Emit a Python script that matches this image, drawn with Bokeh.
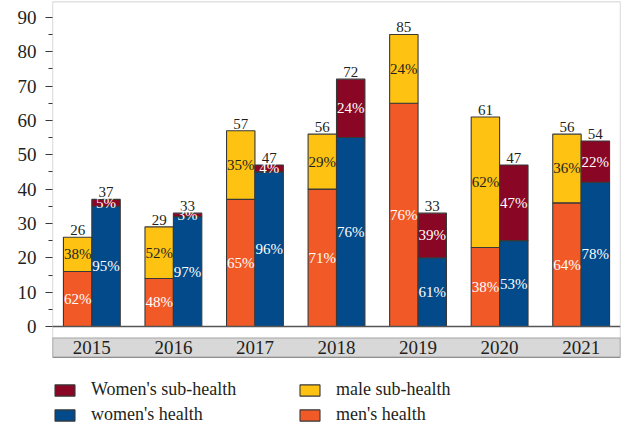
from bokeh.plotting import figure
from bokeh.models import (ColumnDataSource, FactorRange, FixedTicker, Span,
                          BoxAnnotation, Legend, LegendItem)
from bokeh.core.properties import value
from bokeh.embed import file_html
from bokeh.resources import INLINE

# ---------------- data ----------------
years = ["2015", "2016", "2017", "2018", "2019", "2020", "2021"]
men_health = [16, 14, 37, 40, 65, 23, 36]
men_sub = [10, 15, 20, 16, 20, 38, 20]
women_health = [35, 32, 45, 55, 20, 25, 42]
women_sub = [2, 1, 2, 17, 13, 22, 12]
men_health_pct = ["62%", "48%", "65%", "71%", "76%", "38%", "64%"]
men_sub_pct = ["38%", "52%", "35%", "29%", "24%", "62%", "36%"]
women_health_pct = ["95%", "97%", "96%", "76%", "61%", "53%", "78%"]
women_sub_pct = ["5%", "3%", "4%", "24%", "39%", "47%", "22%"]
y_ticks = [0, 10, 20, 30, 40, 50, 60, 70, 80, 90]

# ---------------- style ----------------
FONT = "Liberation Serif"
C_MEN_H = "#F15A26"
C_MEN_S = "#FEC312"
C_WOM_H = "#024A8A"
C_WOM_S = "#890724"
EDGE = "#383838"
TXT = "#231F20"

Y_TOP = 94.6
BAND_TOP = -3.3
BAND_BOTTOM = -9.0
Y_BOTTOM = -28.8

men_total = [a + b for a, b in zip(men_health, men_sub)]
women_total = [a + b for a, b in zip(women_health, women_sub)]

men_src = ColumnDataSource(dict(
    x=[(y, "m") for y in years],
    health=men_health, sub=men_sub, total=men_total,
    total_txt=[str(t) for t in men_total],
    h_mid=[h / 2 for h in men_health],
    s_mid=[h + s / 2 for h, s in zip(men_health, men_sub)],
    h_pct=men_health_pct, s_pct=men_sub_pct,
))
women_src = ColumnDataSource(dict(
    x=[(y, "w") for y in years],
    health=women_health, sub=women_sub, total=women_total,
    total_txt=[str(t) for t in women_total],
    h_mid=[h / 2 for h in women_health],
    s_mid=[h + s / 2 for h, s in zip(women_health, women_sub)],
    h_pct=women_health_pct, s_pct=women_sub_pct,
))

factors = [(y, g) for y in years for g in ("m", "w")]
p = figure(
    x_range=FactorRange(*factors, group_padding=0.87, factor_padding=0.0,
                        range_padding=0.04),
    y_range=(Y_BOTTOM, Y_TOP),
    width=622, height=425,
    output_backend="svg", toolbar_location=None,
    x_axis_location=None,
    min_border_left=52, min_border_right=2, min_border_top=1,
    min_border_bottom=0,
)
p.xgrid.visible = False
p.ygrid.visible = False
p.outline_line_color = None
p.background_fill_color = "white"
p.border_fill_color = "white"

# year band and outer box
band = BoxAnnotation(top=BAND_TOP, bottom=BAND_BOTTOM, fill_color="#D8D8D8",
                     fill_alpha=1.0, line_color=EDGE, line_width=1.3,
                     level="underlay")
p.add_layout(band)
box = BoxAnnotation(bottom=BAND_BOTTOM, fill_alpha=0.0, line_color=EDGE,
                    line_width=1.3)
p.add_layout(box)

# bars
men_r = p.vbar_stack(["health", "sub"], x="x", width=1.0, source=men_src,
                     fill_color=[C_MEN_H, C_MEN_S], line_color=EDGE,
                     line_width=1.1)
women_r = p.vbar_stack(["health", "sub"], x="x", width=1.0, source=women_src,
                       fill_color=[C_WOM_H, C_WOM_S], line_color=EDGE,
                       line_width=1.1)

zero = Span(location=0, dimension="width", line_color="#555555",
            line_width=1.5)
p.add_layout(zero)

tf = value(FONT)
for src in (men_src, women_src):
    p.text(x="x", y="total", text="total_txt", source=src, text_font=tf,
           text_font_size="15px", text_align="center",
           text_baseline="bottom", text_color=TXT, y_offset=-2)
    p.text(x="x", y="h_mid", text="h_pct", source=src, text_font=tf,
           text_font_size="15px", text_align="center",
           text_baseline="middle", text_color="white")
p.text(x="x", y="s_mid", text="s_pct", source=men_src, text_font=tf,
       text_font_size="15px", text_align="center", text_baseline="middle",
       text_color=TXT)
p.text(x="x", y="s_mid", text="s_pct", source=women_src, text_font=tf,
       text_font_size="15px", text_align="center", text_baseline="middle",
       text_color="white")

# year labels inside the band
band_mid = (BAND_TOP + BAND_BOTTOM) / 2
p.text(x=years, y=[band_mid] * len(years), text=years, text_font=tf,
       text_font_size="19px", text_align="center", text_baseline="middle",
       text_color=TXT)

# y axis
ax = p.yaxis[0]
ax.ticker = FixedTicker(ticks=y_ticks,
                        minor_ticks=[t + 5 for t in y_ticks[:-1]])
ax.axis_line_color = None
ax.major_tick_line_color = EDGE
ax.minor_tick_line_color = EDGE
ax.major_tick_line_width = 1.2
ax.minor_tick_line_width = 1.2
ax.major_tick_out = 7
ax.major_tick_in = 0
ax.minor_tick_out = 4
ax.minor_tick_in = 0
ax.major_label_text_font = FONT
ax.major_label_text_font_size = "19px"
ax.major_label_text_color = TXT
ax.major_label_standoff = 9

legend = Legend(
    items=[
        LegendItem(label="Women's sub-health", renderers=[women_r[1]]),
        LegendItem(label="women's health", renderers=[women_r[0]]),
        LegendItem(label="male sub-health", renderers=[men_r[1]]),
        LegendItem(label="men's health", renderers=[men_r[0]]),
    ],
    location=(0, 0), orientation="vertical", nrows=2,
    border_line_color=None, background_fill_alpha=0.0,
    padding=0, margin=0, spacing=4,
    glyph_width=25, glyph_height=14, label_standoff=14,
    label_width=202, label_height=18,
    label_text_font=FONT, label_text_font_size="18px",
    label_text_color=TXT,
)
p.add_layout(legend)

open("out.html", "w").write(file_html(p, INLINE))
